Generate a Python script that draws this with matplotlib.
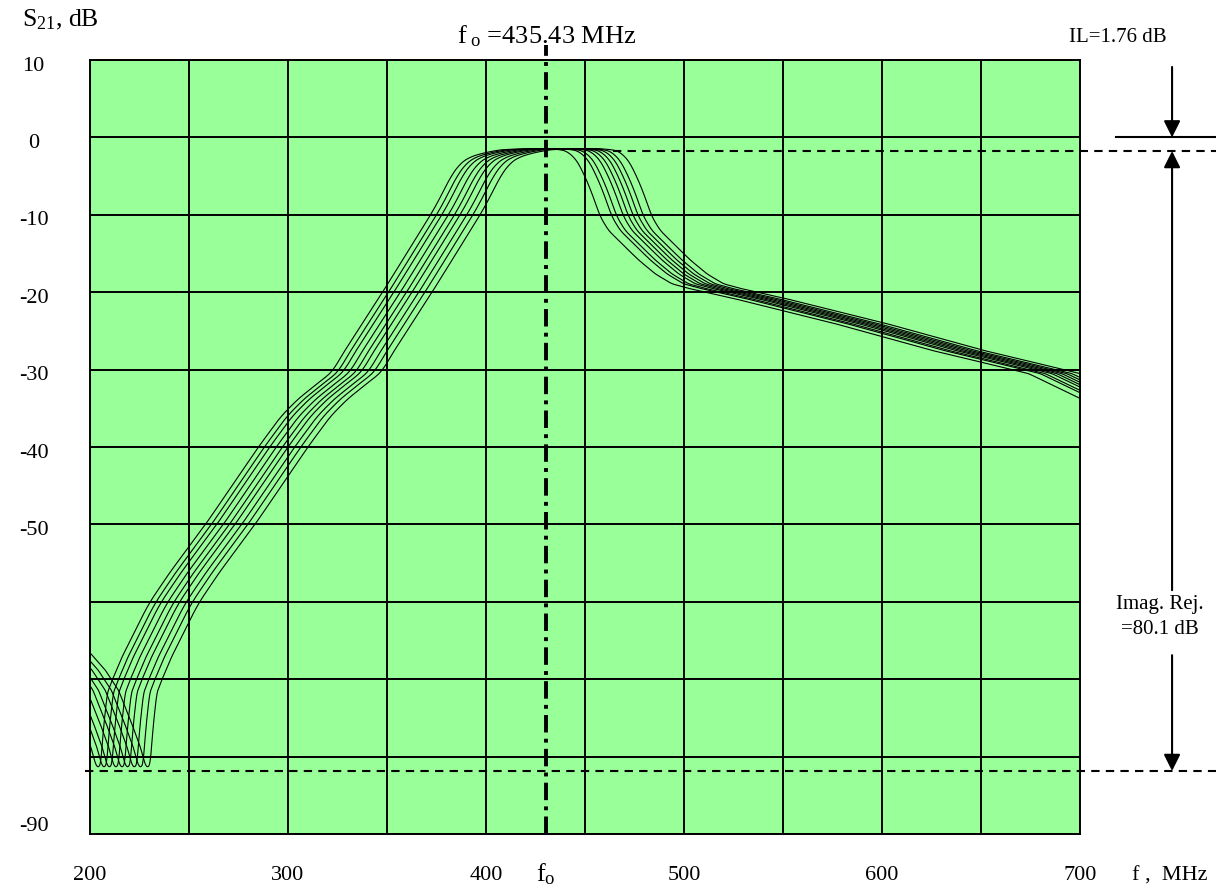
import numpy as np
import matplotlib
matplotlib.use("Agg")
import matplotlib.pyplot as plt

plt.rcParams['font.family'] = ['Liberation Serif', 'DejaVu Serif']
plt.rcParams['mathtext.fontset'] = 'custom'
plt.rcParams['mathtext.rm'] = 'Liberation Serif'
plt.rcParams['mathtext.it'] = 'Liberation Serif:italic'

# ---- data ----------------------------------------------------------------
# low side (image notch + rising edge) of the right-most response, MHz / dB
low_f = [200, 207.6, 214.3, 221, 225.3, 227.8, 229, 230.3, 232, 233.7, 236.2,
         241.2, 248, 254.5, 265, 283.3, 301, 310, 321.2, 329.6, 339.7, 344,
         348.1, 352, 372.7, 397, 402, 407, 412.1, 417.2, 423.9, 432, 445, 480, 790]
low_db = [-66.6, -68.8, -71.4, -75.7, -78.7, -81.0, -81.4, -81.0, -75.7, -71.8,
          -70.1, -67.1, -63.6, -60.3, -56.3, -50.0, -43.4, -40.0, -36.1, -33.9,
          -31.8, -31.0, -30.0, -28.2, -20.0, -10.0, -7.7, -5.1, -3.3, -2.5, -2.0,
          -1.6, -1.45, -1.4, -1.4]

# high side (falling edge + tail) of the right-most response
high_f = [180, 440, 455, 462, 466, 469.5, 472.7, 476.9, 480.3, 483.7, 487.9,
          494.6, 503, 511.4, 519.8, 528.3, 551, 601.5, 651, 700, 726, 740]
high_db = [-1.4, -1.35, -1.4, -1.55, -1.7, -2.3, -3.3, -5.5, -7.7, -10.2, -12.0,
           -13.7, -15.8, -17.6, -18.9, -19.5, -20.8, -24.0, -27.5, -30.5, -33.7,
           -35.6]

# frequency offsets of the 9 traces (MHz below the right-most one)
rise_shift = [25.0, 22.0, 19.3, 16.0, 12.9, 10.1, 6.7, 3.6, 0.0]
fall_shift = [26.1, 20.2, 17.7, 14.3, 11.8, 9.3, 6.8, 4.2, 0.0]

f0_line = 430.3
il_level = -1.76
rej_level = -81.86

ytick_vals = [10, 0, -10, -20, -30, -40, -50, -90]
xtick_vals = [200, 300, 400, 500, 600, 700]

# ---- figure ---------------------------------------------------------------
fig = plt.figure(figsize=(12.16, 8.92), dpi=100)
ax = fig.add_axes([90 / 1216, 58 / 892, 990 / 1216, 774 / 892])
ax.set_facecolor('#99ff99')
ax.set_xlim(200, 700)
ax.set_ylim(-90, 10)
ax.set_xticks(np.arange(200, 701, 50))
ax.set_yticks(np.arange(-90, 11, 10))
ax.tick_params(length=0, labelbottom=False, labelleft=False)
ax.grid(True, color='black', lw=1.4)
ax.set_axisbelow(True)
for s in ax.spines.values():
    s.set_linewidth(1.4)


def smooth(v, n):
    # boxcar, edges padded so the ends are not pulled down
    p = np.pad(v, n, mode='edge')
    return np.convolve(p, np.ones(n) / n, mode='same')[n:-n]


# rounded templates on a fine grid (only to take the corners off the read points)
step = 0.1
g = np.arange(180, 780 + step / 2, step)
low_raw = np.interp(g, low_f, low_db)
low_t = np.where(g > 248, smooth(low_raw, 60), smooth(low_raw, 12))
high_t = smooth(np.interp(g, high_f, high_db), 35)

f = np.arange(200, 700 + step / 2, step)
for rs, fs in zip(rise_shift, fall_shift):
    low = np.interp(f + rs, g, low_t)
    high = np.interp(f + fs, g, high_t)
    ax.plot(f, np.minimum(low, high), color='black', lw=0.8, zorder=3)

# centre frequency
ax.plot([f0_line, f0_line], [-90, 12], color='black', lw=2.8,
        dashes=(4.5, 1.6, 1.0, 1.6), clip_on=False, zorder=4)

# reference levels
ax.plot([464, 769], [il_level, il_level], color='black', lw=1.5,
        dashes=(4, 3), clip_on=False, zorder=4)
ax.plot([197.5, 769], [rej_level, rej_level], color='black', lw=1.5,
        dashes=(4, 3), clip_on=False, zorder=4)
ax.plot([718, 769], [0, 0], color='black', lw=1.5, clip_on=False)

x_ar = 746.5
aprops = dict(arrowstyle='-|>,head_length=0.5,head_width=0.25',
              mutation_scale=20, color='black', lw=1.5, shrinkA=0, shrinkB=0)
ax.annotate('', xy=(x_ar, 0), xytext=(x_ar, 9.1), arrowprops=aprops,
            annotation_clip=False)
ax.annotate('', xy=(x_ar, il_level), xytext=(x_ar, -58.5), arrowprops=aprops,
            annotation_clip=False)
ax.annotate('', xy=(x_ar, rej_level), xytext=(x_ar, -66.9), arrowprops=aprops,
            annotation_clip=False)

# text
fs_t = 16
ax.text(1167 / 1216, 1 - 37 / 892, 'IL=1.76 dB', transform=fig.transFigure,
        ha='right', va='center', fontsize=15)
ax.text(1160 / 1216, 1 - 605 / 892, 'Imag. Rej.', transform=fig.transFigure,
        ha='center', va='center', fontsize=15)
ax.text(1160 / 1216, 1 - 629 / 892, '=80.1 dB', transform=fig.transFigure,
        ha='center', va='center', fontsize=15)
ax.text(547 / 1216, 1 - 36 / 892, r'f$_{\rm \ o}$ =435.43 MHz',
        transform=fig.transFigure, ha='center', va='center', fontsize=19)
fig.text(22 / 1216, 1 - 20 / 892, r'S$_{21}$, dB', ha='left', va='center',
         fontsize=18.5)

for v in ytick_vals:
    yy = v - 0.8 if v != -90 else -89.0
    ax.text(-0.057, yy, str(v), transform=ax.get_yaxis_transform(),
            ha='center', va='center', fontsize=fs_t)
for v in xtick_vals:
    ax.text(v, -0.054, str(v), transform=ax.get_xaxis_transform(),
            ha='center', va='center', fontsize=fs_t)
ax.text(f0_line, -0.052, r'f$_{\rm o}$', transform=ax.get_xaxis_transform(),
        ha='center', va='center', fontsize=19)
ax.text(1170 / 1216, 1 - 876 / 892, 'f ,  MHz', transform=fig.transFigure,
        ha='center', va='center', fontsize=fs_t)

fig.savefig('out.png', dpi=100)
